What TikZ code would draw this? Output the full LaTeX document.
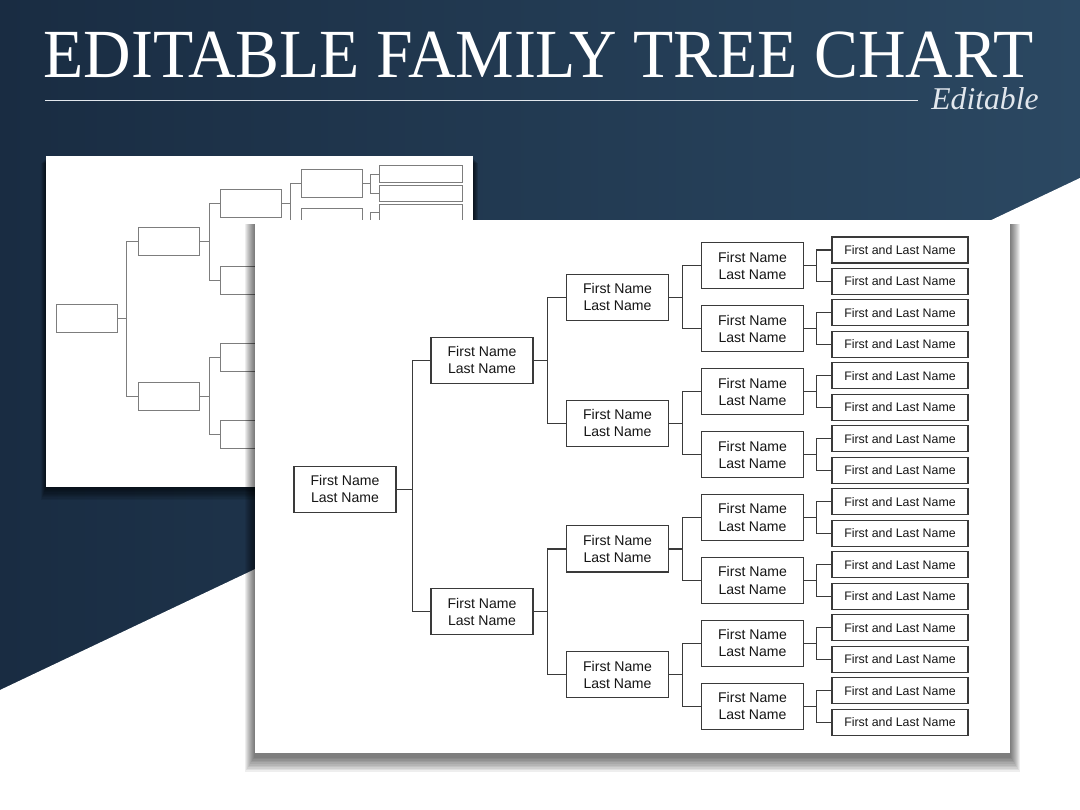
\documentclass[tikz,border=0pt]{standalone}
\usepackage{fontspec}
\setmainfont{Liberation Serif}
\setsansfont{Liberation Sans}

\definecolor{chartNavyDark}{RGB}{25,44,66}
\definecolor{chartNavyLight}{RGB}{43,72,98}
\definecolor{chartRule}{RGB}{226,231,237}
\definecolor{chartBox}{RGB}{58,58,58}
\definecolor{chartBoxLight}{RGB}{125,125,125}
\definecolor{chartText}{RGB}{22,22,22}

\begin{document}
\begin{tikzpicture}[x=.025cm,y=-.025cm,
      heading/.style={font=\fontsize{49}{54}\selectfont, text=white,
        anchor=base, inner sep=0pt},
      subheading/.style={font=\fontsize{22.5}{24}\selectfont\itshape,
        text=chartRule, anchor=base, inner sep=0pt},
      person/.style={draw=chartBox, line width=.75pt, fill=white, inner sep=0pt,
        minimum width=2.55cm, minimum height=1.15cm, align=center,
        font=\fontsize{10}{12.2}\selectfont\sffamily, text=chartText},
      ancestor/.style={person, minimum width=3.4cm, minimum height=.65cm,
        font=\fontsize{8.8}{10}\selectfont\sffamily},
      blank/.style={draw=chartBoxLight, line width=.5pt, fill=white,
        inner sep=0pt, minimum width=1.525cm, minimum height=.7cm},
      blankleaf/.style={blank, minimum width=2.075cm, minimum height=.42cm},
      link/.style={draw=chartBox, line width=.75pt},
      linklight/.style={draw=chartBoxLight, line width=.5pt}]
  \useasboundingbox (0,0) rectangle (1080,810);

  % Backdrop: navy band, white wedge below it.
  \shade[left color=chartNavyDark, right color=chartNavyLight]
    (0,0) rectangle (1080,810);
  \fill[white] (0,690) -- (1080,178) -- (1080,810) -- (0,810) -- cycle;

  \node[heading] (title) at (538.5,77)
    {\scalebox{.955}[1]{EDITABLE FAMILY TREE CHART}};
  \draw[chartRule, line width=.8pt] (45,100.5) -- (918,100.5);
  \node[subheading] (tag) at (985,109) {Editable};

  % Back sheet, boxes left empty.
  \foreach \k in {1,...,10}
    \fill[black, opacity=.08] ({46-.5*\k},{158+.5*\k})
      rectangle ({473+.5*\k},{487+1.3*\k});
  \fill[white] (46,156) rectangle (473,487);

  \foreach \i in {1,...,16}
    \node[blankleaf] (s5-\i) at (420.5,{174+19.3*(\i-1)}) {};
  \foreach \i in {1,...,8}
    \node[blank] (s4-\i) at (332,{174+19.3*(2*\i-1.5)}) {};
  \foreach \i in {1,...,4}
    \node[blank] (s3-\i) at (250.5,{174+19.3*(4*\i-2.5)}) {};
  \foreach \i in {1,2}
    \node[blank] (s2-\i) at (169,{174+19.3*(8*\i-4.5)}) {};
  \node[blank] (s1) at (86.5,{174+19.3*7.5}) {};

  \foreach \i [evaluate=\i as \a using int(2*\i-1),
      evaluate=\i as \b using int(2*\i)] in {1,...,8}{
    \draw[linklight] (s5-\a.west) -- ++(-8,0) |- (s4-\i.east);
    \draw[linklight] (s5-\b.west) -- ++(-8,0) |- (s4-\i.east);}
  \foreach \i [evaluate=\i as \a using int(2*\i-1),
      evaluate=\i as \b using int(2*\i)] in {1,...,4}{
    \draw[linklight] (s4-\a.west) -- ++(-11,0) |- (s3-\i.east);
    \draw[linklight] (s4-\b.west) -- ++(-11,0) |- (s3-\i.east);}
  \foreach \i [evaluate=\i as \a using int(2*\i-1),
      evaluate=\i as \b using int(2*\i)] in {1,2}{
    \draw[linklight] (s3-\a.west) -- ++(-10,0) |- (s2-\i.east);
    \draw[linklight] (s3-\b.west) -- ++(-10,0) |- (s2-\i.east);}
  \draw[linklight] (s2-1.west) -- ++(-12,0) |- (s1.east);
  \draw[linklight] (s2-2.west) -- ++(-12,0) |- (s1.east);

  % Front sheet with the filled-in tree.
  \foreach \k in {1,...,10}
    \fill[black, opacity=.065] ({255-\k},224)
      rectangle ({1010+\k},{756+1.6*\k});
  \fill[white] (255,220) rectangle (1010,753);

  \foreach \i in {1,...,16}
    \node[ancestor] (g5-\i) at (900,{250+31.47*(\i-1)})
      {First and Last Name};
  \foreach \i in {1,...,8}
    \node[person] (g4-\i) at (752.5,{250+31.47*(2*\i-1.5)})
      {First Name\\Last Name};
  \foreach \i in {1,...,4}
    \node[person] (g3-\i) at (617.5,{250+31.47*(4*\i-2.5)})
      {First Name\\Last Name};
  \foreach \i in {1,2}
    \node[person] (g2-\i) at (482,{250+31.47*(8*\i-4.5)})
      {First Name\\Last Name};
  \node[person] (g1) at (345,{250+31.47*7.6}) {First Name\\Last Name};

  \foreach \i [evaluate=\i as \a using int(2*\i-1),
      evaluate=\i as \b using int(2*\i)] in {1,...,8}{
    \draw[link] (g5-\a.west) -- ++(-15,0) |- (g4-\i.east);
    \draw[link] (g5-\b.west) -- ++(-15,0) |- (g4-\i.east);}
  \foreach \i [evaluate=\i as \a using int(2*\i-1),
      evaluate=\i as \b using int(2*\i)] in {1,...,4}{
    \draw[link] (g4-\a.west) -- ++(-18,0) |- (g3-\i.east);
    \draw[link] (g4-\b.west) -- ++(-18,0) |- (g3-\i.east);}
  \foreach \i [evaluate=\i as \a using int(2*\i-1),
      evaluate=\i as \b using int(2*\i)] in {1,2}{
    \draw[link] (g3-\a.west) -- ++(-18,0) |- (g2-\i.east);
    \draw[link] (g3-\b.west) -- ++(-18,0) |- (g2-\i.east);}
  \draw[link] (g2-1.west) -- ++(-18,0) |- (g1.east);
  \draw[link] (g2-2.west) -- ++(-18,0) |- (g1.east);
\end{tikzpicture}
\end{document}
